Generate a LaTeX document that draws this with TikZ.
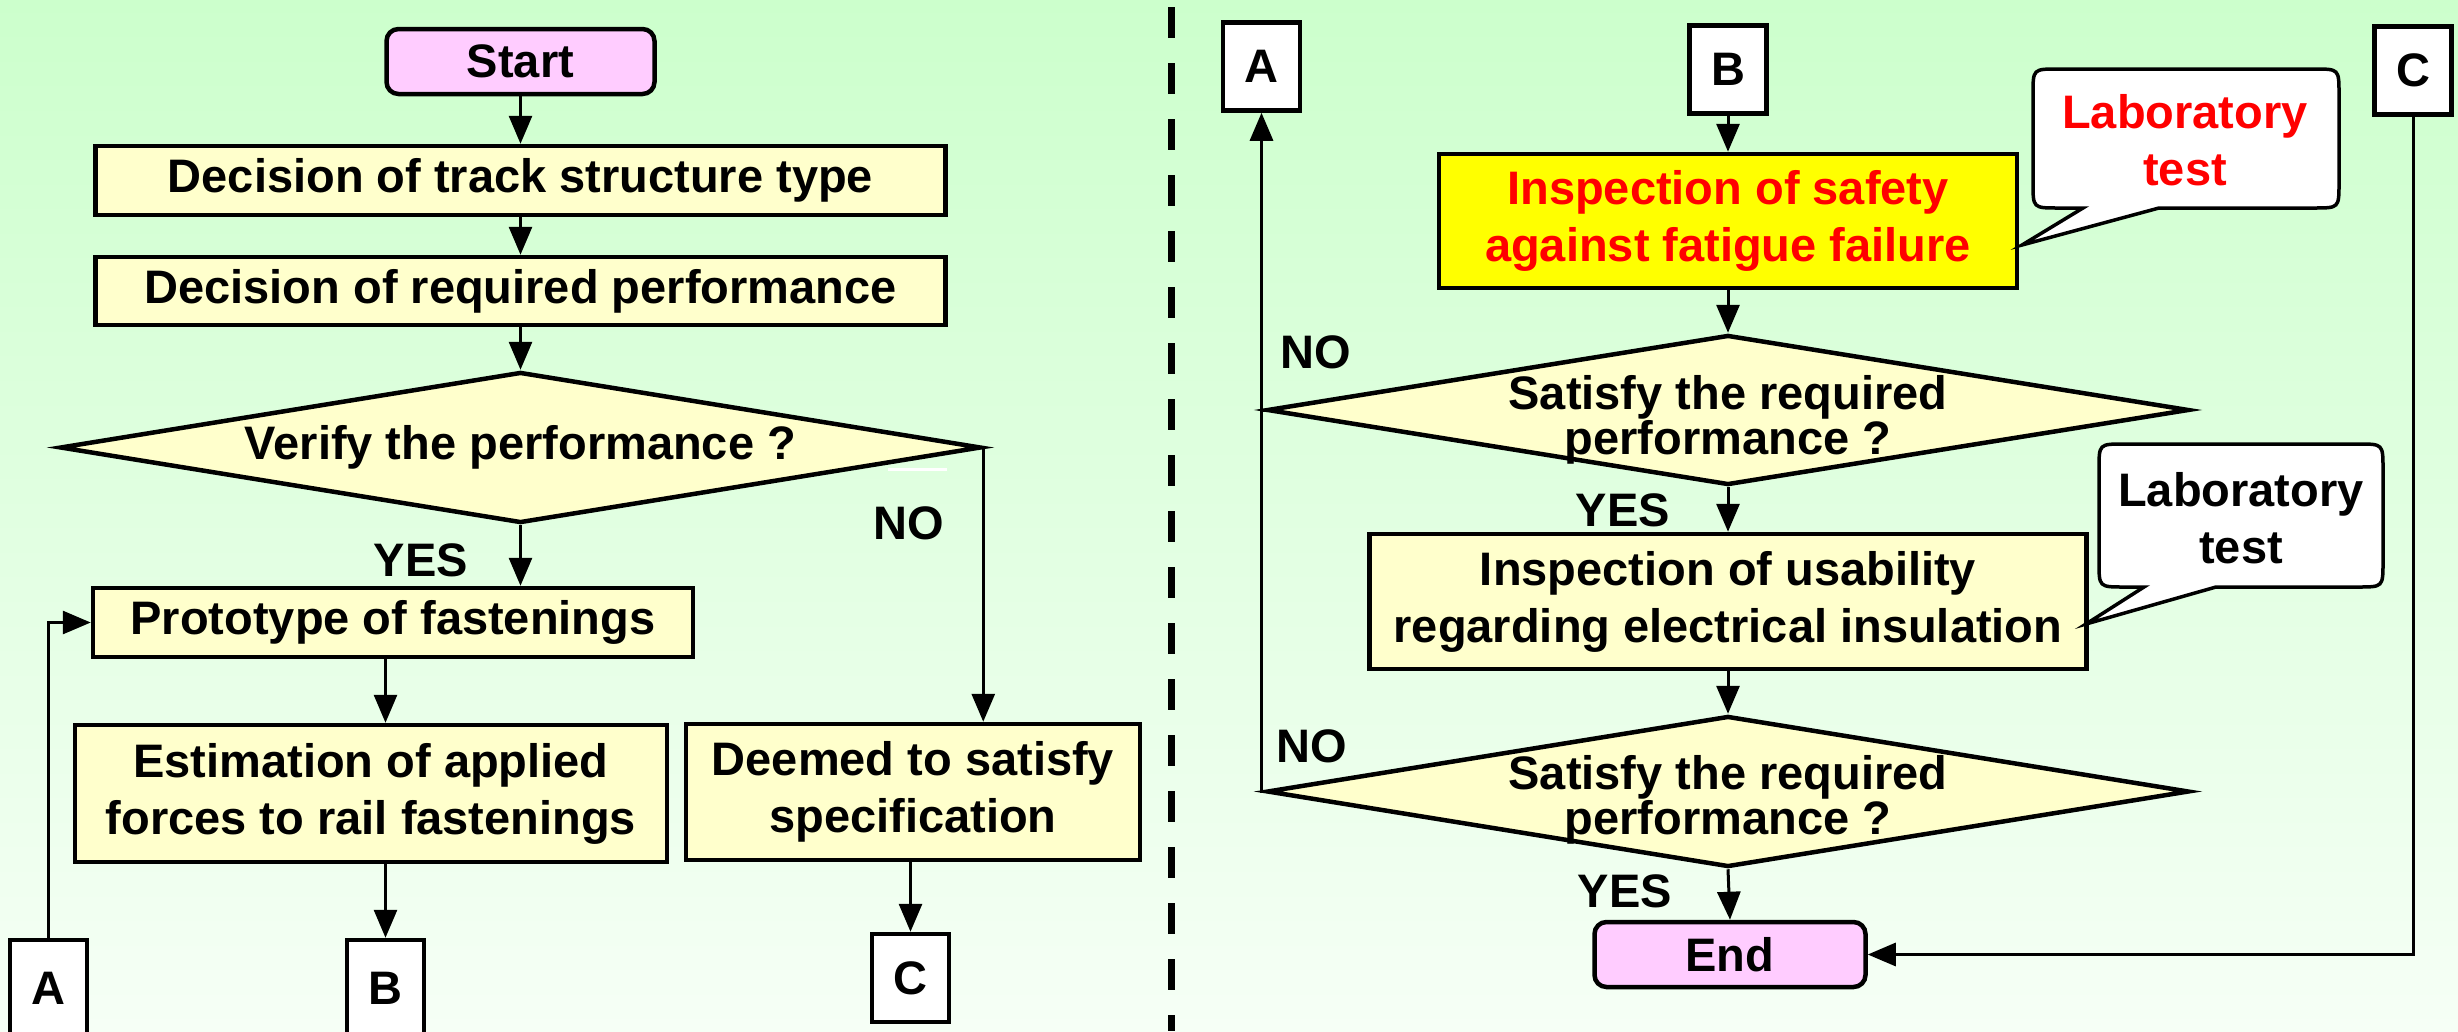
\documentclass[tikz,border=0pt]{standalone}
\usepackage{fontspec}
\setmainfont{Liberation Sans}
\usetikzlibrary{arrows.meta,shapes.geometric}
\definecolor{boxfill}{HTML}{FFFFCC}
\definecolor{termfill}{HTML}{FFCCFF}
\definecolor{bgtop}{HTML}{CCFFCC}
\definecolor{bgbot}{HTML}{F6FFF6}
\definecolor{hired}{HTML}{FF0000}
\definecolor{hiyellow}{HTML}{FFFF00}
\begin{document}
\begin{tikzpicture}[x=1pt,y=-1pt,
  every node/.style={font={\fontsize{47}{57}\selectfont\bfseries}},
  proc/.style={draw=black, line width=4.5pt, fill=boxfill, inner sep=0pt, align=center},
  term/.style={proc, fill=termfill, rounded corners=12pt},
  conn/.style={draw=black, line width=4.5pt, fill=white, inner sep=0pt, minimum width=77pt, minimum height=88pt},
  dec/.style={draw=black, line width=4.5pt, fill=boxfill, shape=diamond, inner sep=0pt},
  dectext/.style={inner sep=0pt, align=center, font={\fontsize{47}{45}\selectfont\bfseries}},
  lbl/.style={inner sep=0pt},
  flow/.style={line width=3pt, -{Triangle[length=28pt,width=23pt]}},
  link/.style={line width=3pt},
  callout/.style={draw=black, line width=3.5pt, fill=white}
]
\shade[top color=bgtop, bottom color=bgbot] (0,0) rectangle (2458,1031);
\useasboundingbox (0,0) rectangle (2458,1031);

% divider
\draw[line width=7pt, dash pattern=on 31pt off 25pt] (1171,7) -- (1171,1031);

% ---------- left part ----------
\node[term, minimum width=268pt, minimum height=65pt] (start) at (520.5,61.5) {Start};
\node[proc, minimum width=850pt, minimum height=69pt] (d1) at (520.5,180.5) {Decision of track structure type};
\node[proc, minimum width=850pt, minimum height=68pt] (d2) at (520.5,291) {Decision of required performance};
\node[dec, minimum width=921pt, minimum height=151pt] (ver) at (520.5,447.5) {};
\node[lbl] (vert) at (ver.center) {Verify the performance ?};
\draw[white, line width=3pt] (888,469) -- (947,469);
\node[proc, minimum width=600pt, minimum height=69pt] (proto) at (393,622.5) {Prototype of fastenings};
\node[proc, minimum width=592pt, minimum height=137pt] (est) at (371,793.5) {Estimation of applied\\forces to rail fastenings};
\node[proc, minimum width=454pt, minimum height=136pt] (deem) at (913,792) {Deemed to satisfy\\specification};
\node[conn, minimum height=96pt] (a1) at (48.5,988) {A};
\node[conn, minimum height=96pt] (b1) at (385.5,988) {B};
\node[conn] (c1) at (910.5,978) {C};
\node[lbl] (yes0) at (421,560) {YES};
\node[lbl] (no0) at (909,523) {NO};

\draw[flow] (start.south) -- (start.south |- d1.north);
\draw[flow] (d1.south) -- (d1.south |- d2.north);
\draw[flow] (d2.south) -- (d2.south |- ver.north);
\draw[flow] (ver.south) -- (ver.south |- proto.north);
\draw[flow] (ver.east) -- (ver.east |- deem.north);
\draw[flow] (proto.south -| b1.north) -- (est.north -| b1.north);
\draw[flow] (est.south -| b1.north) -- (b1.north);
\draw[flow] (deem.south -| c1.north) -- (c1.north);
\draw[flow] (a1.north) |- (proto.west);

% ---------- right part ----------
\node[conn] (a2) at (1261.5,66.5) {A};
\node[conn] (b2) at (1728,69.5) {B};
\node[conn] (c2) at (2413,70.5) {C};
\node[proc, fill=hiyellow, text=hired, minimum width=578pt, minimum height=134pt] (safe) at (1728,221) {Inspection of safety\\against fatigue failure};
\node[dec, minimum width=922pt, minimum height=150pt] (q1) at (1728,410) {};
\node[dectext] (q1t) at (1728,420) {Satisfy the required\\performance ?};
\node[proc, minimum width=717pt, minimum height=135pt] (usab) at (1728,601.5) {Inspection of usability\\regarding electrical insulation};
\node[dec, minimum width=922pt, minimum height=151pt] (q2) at (1728,791.5) {};
\node[dectext] (q2t) at (1728,800) {Satisfy the required\\performance ?};
\node[term, minimum width=271pt, minimum height=65pt] (end) at (1730,954.5) {End};
\node[lbl] (no1) at (1316,352) {NO};
\node[lbl] (yes1) at (1623,510) {YES};
\node[lbl] (no2) at (1312,746) {NO};
\node[lbl] (yes2) at (1625,891) {YES};

% callouts
\draw[callout] (2083,208) -- (2022,245) -- (2159,208) -- (2314,208) .. controls (2339,208) .. (2339,183) -- (2339,94) .. controls (2339,69) .. (2314,69) -- (2058,69) .. controls (2033,69) .. (2033,94) -- (2033,183) .. controls (2033,208) .. (2058,208) -- cycle;
\node[lbl, align=center, text=hired] (lab1) at (2185,140) {Laboratory\\test};
\draw[callout] (2144,587) -- (2086,624) -- (2216,587) -- (2358,587) .. controls (2383,587) .. (2383,562) -- (2383,469) .. controls (2383,444) .. (2358,444) -- (2124,444) .. controls (2099,444) .. (2099,469) -- (2099,562) .. controls (2099,587) .. (2124,587) -- cycle;
\node[lbl, align=center] (lab2) at (2241,518) {Laboratory\\test};

\draw[flow] (b2.south) -- (b2.south |- safe.north);
\draw[flow] (safe.south) -- (q1.north);
\draw[flow] (q1.south) -- (usab.north);
\draw[flow] (usab.south) -- (q2.north);
\draw[flow] (q2.south) -- (end.north);
\draw[flow] (q2.west) -| (a2.south);
\draw[link] (q1.west) -- (q1.west -| a2.south);
\draw[flow] (c2.south) |- (end.east);
\end{tikzpicture}
\end{document}
